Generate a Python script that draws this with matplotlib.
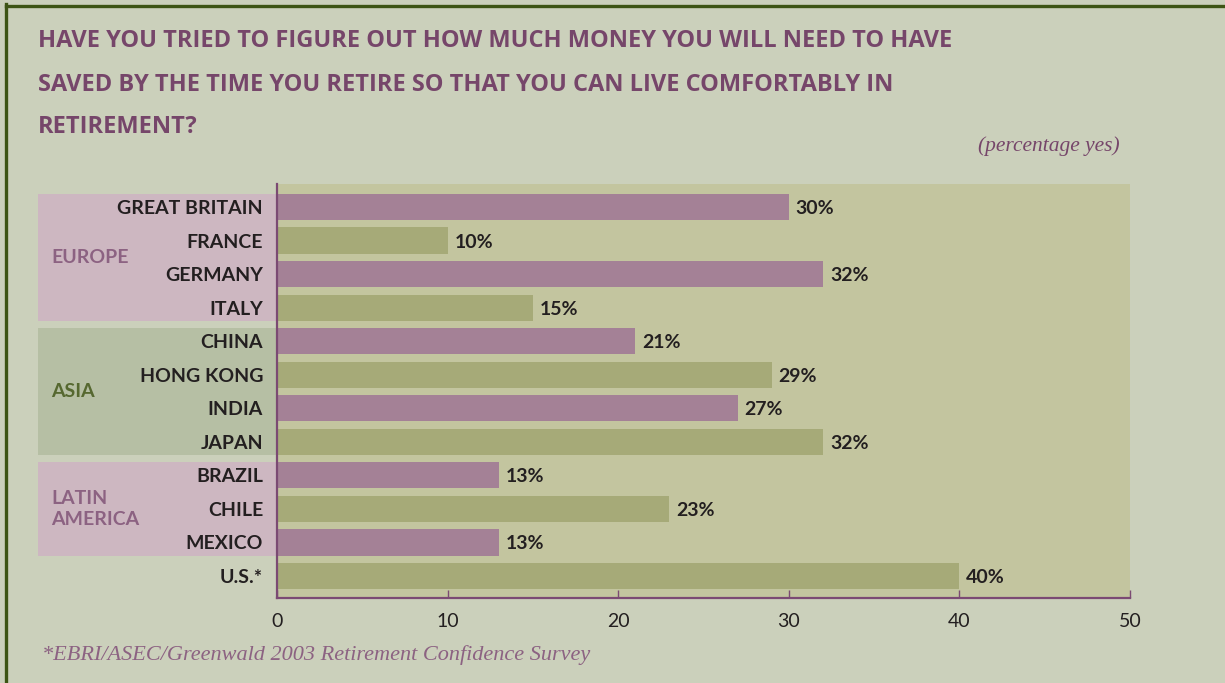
import matplotlib.pyplot as plt
import matplotlib.transforms as mtransforms
from matplotlib.patches import Rectangle
from matplotlib.lines import Line2D

countries = ['GREAT BRITAIN', 'FRANCE', 'GERMANY', 'ITALY', 'CHINA', 'HONG KONG',
             'INDIA', 'JAPAN', 'BRAZIL', 'CHILE', 'MEXICO', 'U.S.*']
pct_yes = [30, 10, 32, 15, 21, 29, 27, 32, 13, 23, 13, 40]

regions = ['EUROPE', 'ASIA', 'LATIN\nAMERICA']
region_first = [0, 4, 8]    # first country row of each region
region_last = [3, 7, 10]    # last country row of each region

x_ticks = [0, 10, 20, 30, 40, 50]

title_lines = ['HAVE YOU TRIED TO FIGURE OUT HOW MUCH MONEY YOU WILL NEED TO HAVE',
               'SAVED BY THE TIME YOU RETIRE SO THAT YOU CAN LIVE COMFORTABLY IN',
               'RETIREMENT?']
unit_note = '(percentage yes)'
source_note = '*EBRI/ASEC/Greenwald 2003 Retirement Confidence Survey'

# palette
BG = '#cbd0bb'
PLOT_BG = '#c3c59f'
PINK_BAR = '#a48196'
GREEN_BAR = '#a6aa78'
PINK_BOX = '#cdb7c1'
GREEN_BOX = '#b6bfa4'
PURPLE = '#76466a'
AXIS = '#7b4a73'
PINK_TXT = '#8c6282'
GREEN_TXT = '#566830'
DARK = '#231f20'
BORDER = '#3d5414'

W, H = 1225, 683
fig = plt.figure(figsize=(W / 100, H / 100), dpi=100, facecolor=BG)

# dark green rule along the top and left edge
fig.add_artist(Line2D([6 / W, 1], [1 - 5.5 / H, 1 - 5.5 / H], color=BORDER, lw=2.4,
                      transform=fig.transFigure))
fig.add_artist(Line2D([6 / W, 6 / W], [0, 1 - 4 / H], color=BORDER, lw=2.4,
                      transform=fig.transFigure))

for line, base in zip(title_lines, [47, 91, 133]):
    fig.text(38 / W, 1 - base / H, line, fontsize=17, fontweight='bold',
             family='Open Sans', color=PURPLE, va='baseline', ha='left')

fig.text(1120 / W, 1 - 146 / H, unit_note, fontsize=15.5, style='italic',
         family='Liberation Serif', color=PURPLE, ha='right', va='center')
fig.text(42 / W, 1 - 655 / H, source_note, fontsize=16, style='italic',
         family='Liberation Serif', color=PINK_TXT, ha='left', va='center')

ax = fig.add_axes([277 / W, 1 - 598 / H, (1130 - 277) / W, (598 - 184) / H])
ax.set_facecolor(PLOT_BG)

rows = list(range(len(countries)))
bar_colors = [PINK_BAR if i % 2 == 0 else GREEN_BAR for i in rows]
bar_h = 0.78
ax.barh(rows, pct_yes, height=bar_h, color=bar_colors, zorder=2)

for i, v in zip(rows, pct_yes):
    ax.annotate(f'{v}%', (v, i), xytext=(5, 0), textcoords='offset points',
                ha='left', va='center_baseline', fontsize=14, fontweight='bold',
                family='Lato', color=DARK)

ax.set_xlim(0, 50)
ax.set_ylim(11.656, -0.685)

ax.set_yticks(rows)
ax.set_yticklabels(countries, fontsize=14, fontweight='bold', family='Lato', color=DARK)
ax.tick_params(axis='y', length=0, pad=10)

ax.set_xticks(x_ticks)
ax.set_xticklabels([str(t) for t in x_ticks], fontsize=14, family='Lato', color=DARK)
ax.tick_params(axis='x', direction='in', length=6, width=1, color=AXIS, pad=11)

for side in ['top', 'right']:
    ax.spines[side].set_visible(False)
for side in ['left', 'bottom']:
    ax.spines[side].set_color(AXIS)
    ax.spines[side].set_linewidth(1.6)
    ax.spines[side].set_zorder(3)

# region panels to the left of the axis
blend = mtransforms.blended_transform_factory(ax.transAxes, ax.transData)
box_left = (38 - 277) / (1130 - 277)
label_x = (51 - 277) / (1130 - 277)
for name, r0, r1 in zip(regions, region_first, region_last):
    box_col = GREEN_BOX if name == 'ASIA' else PINK_BOX
    txt_col = GREEN_TXT if name == 'ASIA' else PINK_TXT
    ax.add_patch(Rectangle((box_left, r0 - bar_h / 2), -box_left, r1 - r0 + bar_h,
                           transform=blend, facecolor=box_col, edgecolor='none',
                           clip_on=False, zorder=0))
    ax.text(label_x, (r0 + r1) / 2, name, transform=blend, ha='left', va='center',
            fontsize=14, fontweight='bold', family='Lato', color=txt_col,
            linespacing=1.3)

fig.savefig('out.png', dpi=100, facecolor=BG)
